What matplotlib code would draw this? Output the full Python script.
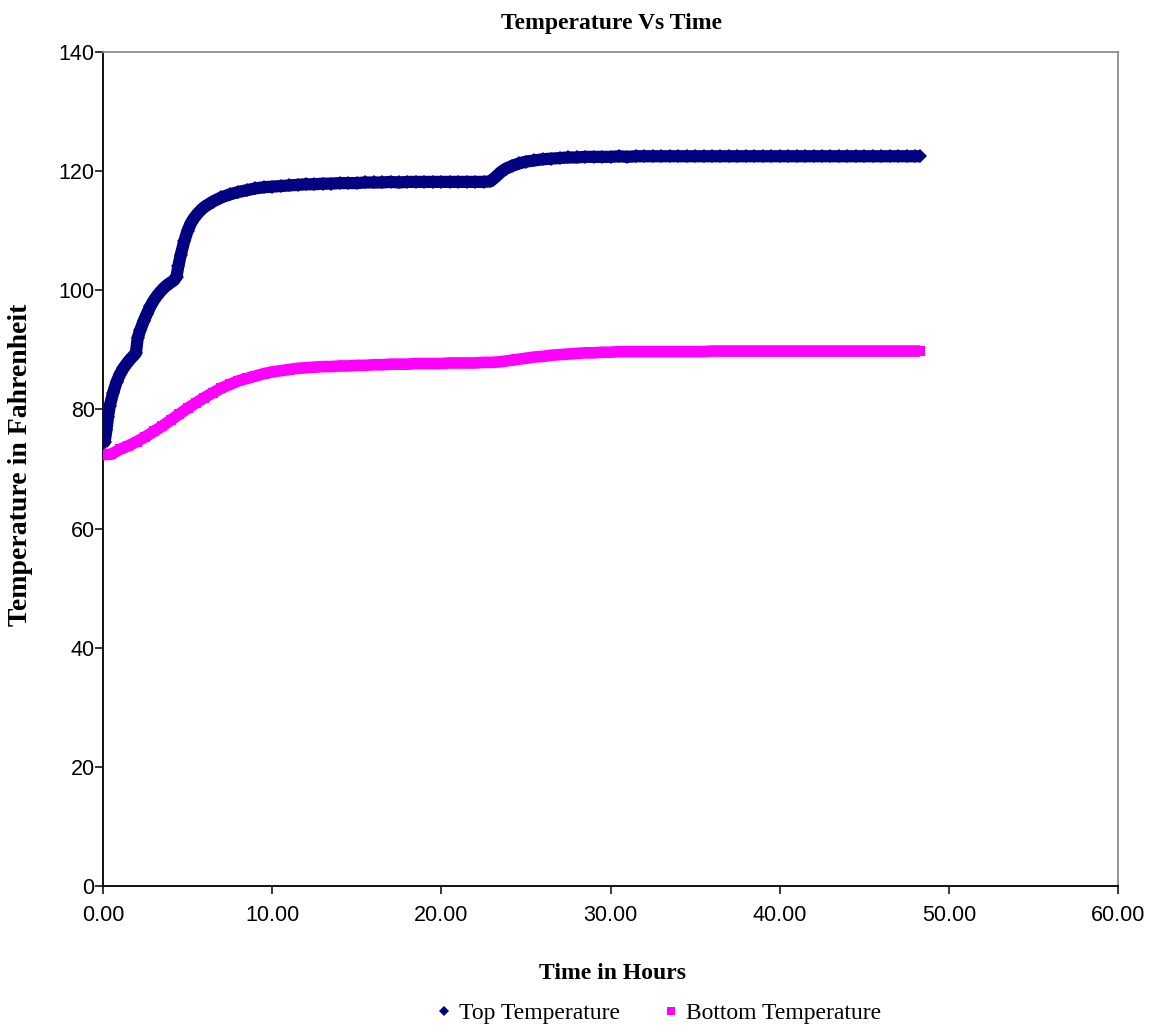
import matplotlib
matplotlib.use("Agg")
import matplotlib.pyplot as plt
from matplotlib.ticker import FormatStrFormatter

# Top sensor readings (hours, degrees F)
top_hours = [
    0.0, 0.1, 0.2, 0.3, 0.4, 0.6, 0.8, 1.0, 1.2, 1.4, 1.6, 1.8, 1.95, 2.05,
    2.2, 2.4, 2.6, 2.8, 3.0, 3.2, 3.4, 3.6, 3.8, 4.0, 4.2, 4.35, 4.45, 4.6,
    4.8, 5.0, 5.2, 5.4, 5.6, 5.8, 6.0, 6.5, 7.0, 7.5, 8.0, 8.5, 9.0, 9.5,
    10.0, 10.5, 11.0, 11.5, 12.0, 12.5, 13.0, 13.5, 14.0, 14.5, 15.0, 15.5,
    16.0, 16.5, 17.0, 17.5, 18.0, 18.5, 19.0, 19.5, 20.0, 20.5, 21.0, 21.5,
    22.0, 22.5, 22.9, 23.2, 23.5, 23.8, 24.2, 24.6, 25.0, 25.5, 26.0, 26.5,
    27.0, 27.5, 28.0, 28.5, 29.0, 29.5, 30.0, 30.5, 31.0, 31.5, 32.0, 32.5,
    33.0, 33.5, 34.0, 34.5, 35.0, 35.5, 36.0, 36.5, 37.0, 37.5, 38.0, 38.5,
    39.0, 39.5, 40.0, 40.5, 41.0, 41.5, 42.0, 42.5, 43.0, 43.5, 44.0, 44.5,
    45.0, 45.5, 46.0, 46.5, 47.0, 47.5, 48.0, 48.3,
]
top_temp = [
    74.3, 74.6, 76.5, 78.8, 80.6, 82.8, 84.6, 85.9, 86.9, 87.7, 88.4, 89.0, 89.5, 92.0,
    93.3, 94.8, 96.1, 97.3, 98.3, 99.1, 99.8, 100.4, 100.9, 101.3, 101.7, 102.3, 104.0, 106.0,
    108.2, 110.0, 111.3, 112.2, 112.9, 113.5, 114.0, 114.9, 115.6, 116.1, 116.5, 116.8, 117.1, 117.3,
    117.4, 117.5, 117.6, 117.7, 117.8, 117.8, 117.9, 117.9, 118.0, 118.0, 118.0, 118.1,
    118.1, 118.1, 118.2, 118.1, 118.2, 118.2, 118.2, 118.2, 118.2, 118.2, 118.2, 118.2,
    118.2, 118.2, 118.3, 119.0, 119.8, 120.4, 120.9, 121.3, 121.6, 121.8, 122.0, 122.1,
    122.2, 122.3, 122.3, 122.4, 122.4, 122.4, 122.4, 122.5, 122.4, 122.5, 122.5, 122.5,
    122.5, 122.5, 122.5, 122.5, 122.5, 122.5, 122.5, 122.5, 122.5, 122.5, 122.5, 122.5,
    122.5, 122.5, 122.5, 122.5, 122.5, 122.5, 122.5, 122.5, 122.5, 122.5, 122.5, 122.5,
    122.5, 122.5, 122.5, 122.5, 122.5, 122.5, 122.5, 122.5,
]

# Bottom sensor readings (hours, degrees F)
bottom_hours = [
    0.0, 0.5, 1.0, 1.5, 2.0, 2.5, 3.0, 3.5, 4.0, 4.5, 5.0, 5.5, 6.0, 6.5,
    7.0, 7.5, 8.0, 8.5, 9.0, 9.5, 10.0, 10.5, 11.0, 11.5, 12.0, 12.5, 13.0,
    13.5, 14.0, 14.5, 15.0, 15.5, 16.0, 16.5, 17.0, 17.5, 18.0, 18.5, 19.0,
    19.5, 20.0, 20.5, 21.0, 21.5, 22.0, 22.5, 23.0, 23.5, 24.0, 24.5, 25.0,
    25.5, 26.0, 26.5, 27.0, 27.5, 28.0, 28.5, 29.0, 29.5, 30.0, 30.5, 31.0,
    31.5, 32.0, 32.5, 33.0, 33.5, 34.0, 34.5, 35.0, 35.5, 36.0, 36.5, 37.0,
    37.5, 38.0, 38.5, 39.0, 39.5, 40.0, 40.5, 41.0, 41.5, 42.0, 42.5, 43.0,
    43.5, 44.0, 44.5, 45.0, 45.5, 46.0, 46.5, 47.0, 47.5, 48.0, 48.3,
]
bottom_temp = [
    72.4, 72.5, 73.3, 73.9, 74.6, 75.4, 76.3, 77.2, 78.2, 79.2, 80.2, 81.1, 82.0, 82.8,
    83.6, 84.2, 84.8, 85.2, 85.6, 86.0, 86.3, 86.5, 86.7, 86.9, 87.0, 87.1, 87.2,
    87.2, 87.3, 87.3, 87.4, 87.4, 87.5, 87.5, 87.6, 87.6, 87.6, 87.7, 87.7,
    87.7, 87.7, 87.8, 87.8, 87.8, 87.8, 87.9, 87.9, 88.0, 88.2, 88.4, 88.6,
    88.8, 88.9, 89.1, 89.2, 89.3, 89.4, 89.5, 89.5, 89.6, 89.6, 89.7, 89.7,
    89.7, 89.7, 89.7, 89.7, 89.7, 89.7, 89.7, 89.7, 89.7, 89.8, 89.8, 89.8,
    89.8, 89.8, 89.8, 89.8, 89.8, 89.8, 89.8, 89.8, 89.8, 89.8, 89.8, 89.8,
    89.8, 89.8, 89.8, 89.8, 89.8, 89.8, 89.8, 89.8, 89.8, 89.8, 89.8,
]

x_ticks = [0, 10, 20, 30, 40, 50, 60]
y_ticks = [0, 20, 40, 60, 80, 100, 120, 140]

NAVY = "#000080"
MAGENTA = "#FF00FF"
SERIF = ["Liberation Serif", "DejaVu Serif"]
SANS = ["Liberation Sans", "DejaVu Sans"]

fig = plt.figure(figsize=(11.52, 10.30), dpi=100)
ax = fig.add_axes([0.0894, 0.1398, 0.8811, 0.8097])

# Dense marker bands: a thick stroke under the markers keeps them continuous
ax.plot(top_hours, top_temp, "-", color=NAVY, lw=8.8, solid_joinstyle="round",
        solid_capstyle="butt", zorder=3)
ax.plot(top_hours, top_temp, "D", color=NAVY, ms=6.8, mew=0, zorder=4,
        label="Top Temperature")
ax.plot(bottom_hours, bottom_temp, "-", color=MAGENTA, lw=8.4,
        solid_joinstyle="round", solid_capstyle="butt", zorder=3)
ax.plot(bottom_hours, bottom_temp, "s", color=MAGENTA, ms=7.7, mew=0, zorder=4,
        label="Bottom Temperature")

ax.set_xlim(0, 60)
ax.set_ylim(0, 140)
ax.set_xticks(x_ticks)
ax.set_yticks(y_ticks)
ax.xaxis.set_major_formatter(FormatStrFormatter("%.2f"))
ax.tick_params(axis="both", direction="out", length=5.5, width=1.1,
               labelsize=15.5, colors="black")
ax.tick_params(axis="x", pad=8)
ax.tick_params(axis="y", pad=0.5)
for lab in ax.get_xticklabels() + ax.get_yticklabels():
    lab.set_family(SANS)

for side in ("left", "bottom"):
    ax.spines[side].set_color("black")
    ax.spines[side].set_linewidth(1.3)
for side in ("top", "right"):
    ax.spines[side].set_color("#8c8c8c")
    ax.spines[side].set_linewidth(1.3)

fig.text(0.531, 0.977, "Temperature Vs Time", ha="center", va="center",
         family=SERIF, fontweight="bold", fontsize=17)
ax.set_xlabel("Time in Hours", family=SERIF, fontweight="bold", fontsize=17)
ax.xaxis.set_label_coords(0.502, -0.092)
ax.set_ylabel("Temperature in Fahrenheit", family=SERIF, fontweight="bold",
              fontsize=20)
ax.yaxis.set_label_coords(-0.069, 0.505)

fig.legend(loc="center", bbox_to_anchor=(0.572, 0.0165), ncol=2,
           frameon=False, markerscale=0.8, handlelength=0.6,
           handletextpad=0.35, columnspacing=1.85, numpoints=1,
           prop={"family": SERIF, "size": 17})

fig.savefig("out.png", dpi=100)
